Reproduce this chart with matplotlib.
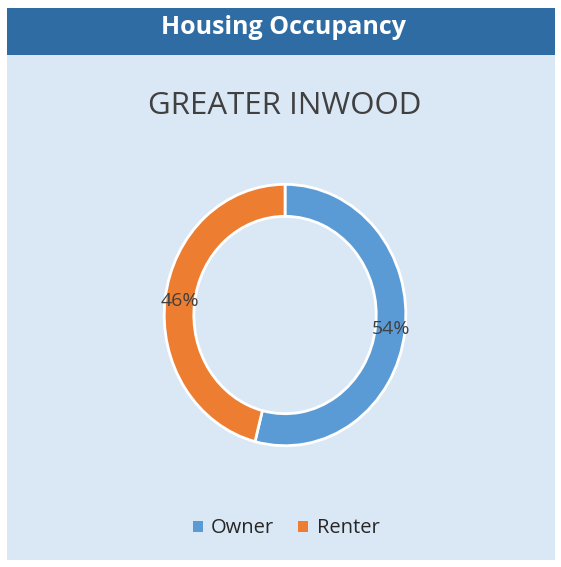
import matplotlib.pyplot as plt
from matplotlib.patches import Rectangle, Patch

# data
categories = ["Owner", "Renter"]
shares = [54, 46]
colors = ["#5b9bd5", "#ed7d31"]

fig = plt.figure(figsize=(5.61, 5.67), dpi=100)
fig.patch.set_facecolor("white")

# panel background and header bar
fig.patches.append(Rectangle((0.0125, 0.0123), 0.9765, 0.9737, transform=fig.transFigure,
                             facecolor="#dae8f5", edgecolor="none", zorder=-2))
fig.patches.append(Rectangle((0.0125, 0.903), 0.9765, 0.083, transform=fig.transFigure,
                             facecolor="#2f6ca3", edgecolor="none", zorder=-1))
fig.text(0.505, 0.951, "Housing Occupancy", color="white", fontsize=18, fontweight="bold",
         family="Open Sans", ha="center", va="center")
fig.text(0.508, 0.813, "GREATER INWOOD", color="#404040", fontsize=22.5,
         family="Open Sans", ha="center", va="center")

ax = fig.add_axes([0.2906, 0.2116, 0.435, 0.4656])
ax.set_zorder(3)
wedges, texts, autotexts = ax.pie(shares, colors=colors, startangle=90, counterclock=False,
                                  radius=1.0, autopct="%d%%", pctdistance=0.88,
                                  wedgeprops=dict(width=0.245, edgecolor="white", linewidth=2),
                                  textprops=dict(color="#404040", fontsize=14, family="Open Sans"))
ax.set_aspect("auto")
ax.set_xlim(-1.01, 1.01)
ax.set_ylim(-1.01, 1.01)
ax.axis("off")

handles = [Patch(facecolor=c, edgecolor="none") for c in colors]
fig.legend(handles, categories, loc="center", bbox_to_anchor=(0.51, 0.068), ncol=2,
           frameon=False, handlelength=0.5, handleheight=0.5, handletextpad=0.4,
           columnspacing=1.2, prop=dict(family="Open Sans", size=14.5), labelcolor="#262626")

fig.savefig("out.png", dpi=100, facecolor=fig.get_facecolor())
